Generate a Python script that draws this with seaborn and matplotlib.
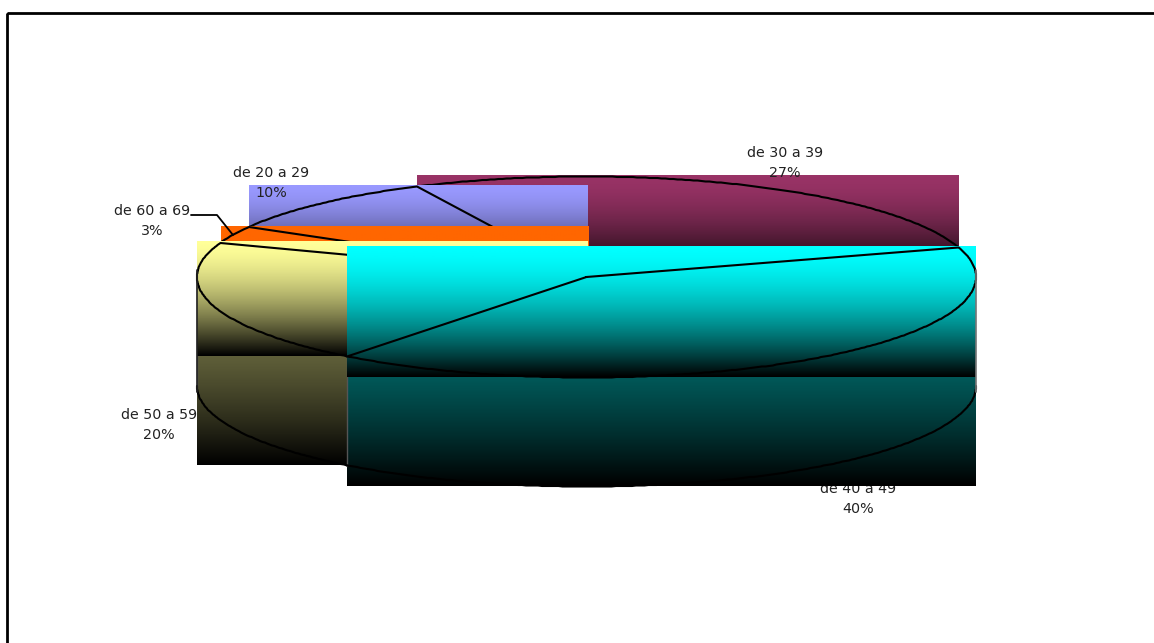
import numpy as np
import matplotlib
matplotlib.use("Agg")
import matplotlib.pyplot as plt
from matplotlib.patches import Rectangle
import seaborn as sns

# Age bands and their shares (%), clockwise from the start angle
age_bands = ["de 30 a 39", "de 40 a 49", "de 50 a 59", "de 60 a 69", "de 20 a 29"]
shares = [27.4, 40.3, 20.0, 2.8, 9.5]
slice_colors = ["#993366", "#00FFFF", "#FFFF99", "#FF6600", "#9999FF"]

# Pie geometry on a pixel-sized canvas
START_ANGLE = -25.8
CX, CY, RX, RY = 586.5, 277.0, 389.5, 100.5
DEPTH = 109.0
FADE = 1.6

# Label anchors (centre x, centre y of the two-line block), per band
label_pos = {
    "de 30 a 39": (785, 163),
    "de 40 a 49": (858, 499),
    "de 50 a 59": (159, 425),
    "de 60 a 69": (152, 221),
    "de 20 a 29": (271, 183),
}
# Labels that sit underneath the pie's fills
under_pie = {"de 50 a 59", "de 40 a 49"}
# Slices painted in a flat colour rather than faded to black
flat_slices = {"de 60 a 69"}
# Painting order of the top faces, first to last
paint_order = ["de 30 a 39", "de 20 a 29", "de 60 a 69", "de 50 a 59", "de 40 a 49"]

sns.set_theme(style="white")
plt.rcParams["font.family"] = ["DejaVu Sans"]

fig = plt.figure(figsize=(11.54, 6.43), dpi=100, facecolor="white")
ax = fig.add_axes([0, 0, 1, 1])
ax.set_xlim(0, 1154)
ax.set_ylim(643, 0)
ax.axis("off")


def rim(a0, a1, dy=0.0, step=0.6):
    """Points on the ellipse between two clockwise angles, snapped to half pixels."""
    n = max(int(abs(a1 - a0) / step), 2)
    t = np.radians(np.linspace(a0, a1, n))
    x = CX + RX * np.sin(t)
    y = CY - RY * np.cos(t) + dy
    return np.round(x * 2) / 2, np.round(y * 2) / 2


def shade(color, x0, x1, y0, y1, z, flat=False):
    """Fill a rectangle with a vertical fade from color down to black."""
    end = color if flat else "#000000"
    cmap = sns.blend_palette([color, end], 256, as_cmap=True)
    ramp = (np.linspace(0, 1, 256) ** FADE)[:, None]
    ax.imshow(ramp, cmap=cmap, vmin=0, vmax=1, extent=(x0, x1, y1, y0),
              aspect="auto", interpolation="bilinear", zorder=z)


def half(color):
    return tuple(0.5 * c for c in matplotlib.colors.to_rgb(color))


edges = START_ANGLE + np.concatenate([[0], np.cumsum(shares)]) * 3.6
slices = {band: (color, a0, a1) for band, color, a0, a1
          in zip(age_bands, slice_colors, edges[:-1], edges[1:])}
LINE = dict(color="black", lw=1.5, solid_joinstyle="round")

# Side walls of the front-facing slices, lowest layer
for band, (color, a0, a1) in slices.items():
    f0, f1 = max(a0, 90.0), min(a1, 270.0)
    if f1 <= f0:
        continue
    x, y = rim(f0, f1, DEPTH)
    shade(half(color), x.min(), x.max(), CY, y.max(), 2)
    ax.plot(x, y, zorder=2.2, **LINE)
    ax.plot([x[-1], x[-1]], [CY, y[-1]], color="#555555", lw=1, zorder=2.1)

# Labels covered by the pie come first, the others go on top at the end
for band, share in zip(age_bands, shares):
    lx, ly = label_pos[band]
    ax.text(lx, ly, f"{band}\n{share:.0f}%", ha="center", va="center",
            fontsize=10.3, color="#222222", linespacing=1.55,
            zorder=1 if band in under_pie else 20)

# Top faces, each one painted over the previous
for i, band in enumerate(paint_order):
    color, a0, a1 = slices[band]
    x, y = rim(a0, a1)
    px = np.r_[CX, x, CX]
    py = np.r_[CY, y, CY]
    x0, x1 = px.min(), px.max()
    if x1 == CX:
        x1 += 1.5
    shade(color, x0, x1, py.min() - 1, py.max(), 5 + i, flat=band in flat_slices)
    ax.plot(px, py, zorder=5.5 + i, **LINE)

# Outer edges of the wall at the widest points of the ellipse
ax.plot([CX - RX] * 2, [CY - 7, CY + DEPTH + 6], color="#222222", lw=1.2, zorder=12)
ax.plot([CX + RX] * 2, [CY - 7, CY + DEPTH + 6], color="#777777", lw=1.2, zorder=12)

# Leader from the small slice to its label
ax.plot([191, 217, 233], [215, 215, 235], color="black", lw=1.3, zorder=19)

# Chart frame running off the right and bottom edges
ax.add_patch(Rectangle((7, 13), 1400, 900, fill=False, ec="black", lw=2, zorder=21))

ax.set_xlim(0, 1154)
ax.set_ylim(643, 0)
fig.savefig("out.png", dpi=100, facecolor="white")
